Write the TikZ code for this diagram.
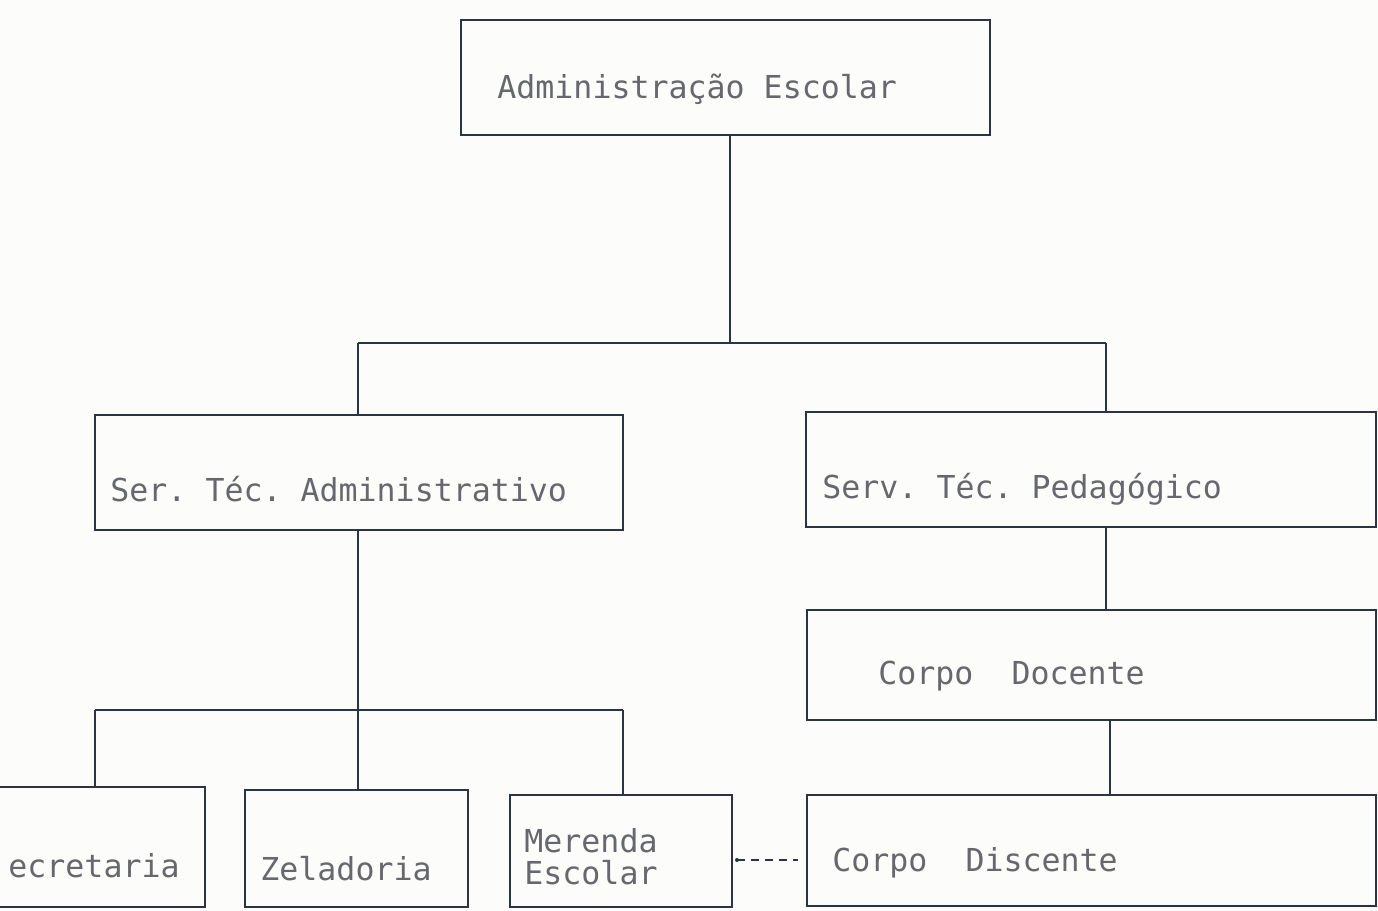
\documentclass[tikz,border=0pt]{standalone}
\usepackage{fontspec}
\newfontfamily\typewriter{DejaVu Sans Mono}
\definecolor{ink}{HTML}{2B3346}
\definecolor{type}{HTML}{66686E}
\definecolor{paper}{HTML}{FCFCFA}
\frenchspacing
\begin{document}
\begin{tikzpicture}[x=0.5pt,y=-0.5pt,
  box/.style={draw=ink,line width=1.4pt,rectangle,inner sep=0pt,anchor=center},
  lbl/.style={anchor=west,inner sep=0pt,text=type,font=\typewriter\frenchspacing\fontsize{15.8}{16}\selectfont},
  conn/.style={draw=ink,line width=1.3pt},
  dashconn/.style={draw=ink,line width=0.8pt,dash pattern=on 4pt off 3pt}]
\fill[paper] (0,0) rectangle (1378,911);
\useasboundingbox (0,0) rectangle (1378,911);
\clip (0,0) rectangle (1378,911);
% boxes
\node[box,minimum width=264.5pt,minimum height=57.5pt] (adm) at (725.5,77.5) {};
\node[box,minimum width=264pt,minimum height=57.5pt] (sta) at (359,472.5) {};
\node[box,minimum width=285pt,minimum height=57.5pt] (spe) at (1091,469.5) {};
\node[box,minimum width=284.5pt,minimum height=55pt] (cdo) at (1091.5,665) {};
\node[box,minimum width=284.5pt,minimum height=55.5pt] (cdi) at (1091.5,850.5) {};
\node[box,minimum width=152.5pt,minimum height=60pt] (sec) at (52.5,847) {};
\node[box,minimum width=111.5pt,minimum height=58.5pt] (zel) at (356.5,848.5) {};
\node[box,minimum width=111pt,minimum height=56pt] (mer) at (621,851) {};
% labels
\node[lbl] (tadm) at (497,89) {Administração Escolar};
\node[lbl] (tsta) at (110,489) {Ser. Téc. Administrativo};
\node[lbl] (tspe) at (822,489) {Serv. Téc. Pedagógico};
\node[lbl] (tcdo) at (878,676) {Corpo\ \ Docente};
\node[lbl] (tcdi) at (832,863) {Corpo\ \ Discente};
\node[lbl] (tsec) at (8,866) {ecretaria};
\node[lbl] (tzel) at (260,869) {Zeladoria};
\node[lbl] (tmer1) at (524,841) {Merenda};
\node[lbl] (tmer2) at (524,873) {Escolar};
% junctions
\coordinate (jt) at (730,343);
\coordinate (jtl) at (358,343);
\coordinate (jtr) at (1106,343);
\coordinate (jbl) at (95,710);
\coordinate (jbm) at (358,710);
\coordinate (jbr) at (623,710);
\coordinate (dstart) at (737,860);
\coordinate (dend) at (798,860);
% connectors
\draw[conn] (adm.south -| jt) -- (jt);
\draw[conn] (jtl) -- (jtr);
\draw[conn] (jtl) -- (jtl |- sta.north);
\draw[conn] (jtr) -- (jtr |- spe.north);
\draw[conn] (sta.south -| jbm) -- (jbm |- zel.north);
\draw[conn] (jbl) -- (jbr);
\draw[conn] (jbl) -- (jbl |- sec.north);
\draw[conn] (jbr) -- (jbr |- mer.north);
\draw[conn] (spe.south -| jtr) -- (jtr |- cdo.north);
\draw[conn] ([xshift=2pt]cdo.south -| jtr) -- ([xshift=2pt]jtr |- cdi.north);
\fill[ink] (dstart) circle (1pt);
\draw[dashconn] (dstart) -- (dend);
\end{tikzpicture}
\end{document}
